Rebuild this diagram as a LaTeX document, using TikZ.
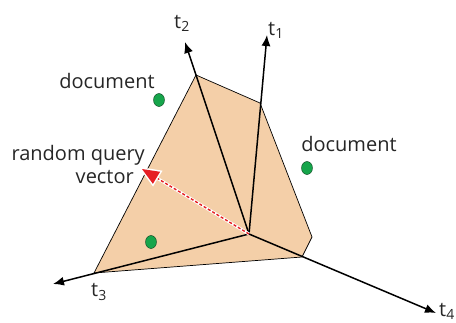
\documentclass[tikz,border=0pt]{standalone}
\usepackage{fontspec}
\setmainfont{Open Sans}
\usetikzlibrary{arrows.meta,calc,shapes.geometric}
\definecolor{peach}{RGB}{244,207,168}
\definecolor{docgreen}{RGB}{22,165,75}
\definecolor{qred}{RGB}{230,30,36}
\tikzset{
  axis/.style={line width=1.5pt,black,-{Latex[length=11pt,width=9pt]}},
  edge/.style={line width=0.8pt,black},
  docdot/.style={ellipse,draw=black!60!docgreen,fill=docgreen,line width=0.4pt,minimum width=11pt,minimum height=13pt,inner sep=0pt},
  lbl/.style={font=\fontsize{20}{23}\selectfont,text=black!85,inner sep=0pt},
}
\begin{document}
\begin{tikzpicture}[x=1pt,y=-1pt]
\useasboundingbox (0,0) rectangle (456,322);
\coordinate (O) at (249,234);
\coordinate (p1) at (196,75);
\coordinate (p2) at (260,103);
\coordinate (p3) at (312,237);
\coordinate (p4) at (302,257);
\coordinate (p5) at (94,273);
\fill[peach] (p1) -- (p2) -- (p3) -- (p4) -- (p5) -- cycle;
\draw[edge,line width=0.7pt] (p1) -- (p2) -- (p3) -- (p4) -- (p5) -- cycle;
\coordinate (e1) at (267,35);
\coordinate (e2) at (185,42);
\coordinate (e3) at (53,284);
\coordinate (e4) at (436,313);
\draw[axis] (O) -- (e1);
\draw[axis] (O) -- (e2);
\draw[axis] (O) -- (e3);
\draw[axis] (O) -- (e4);
\node[lbl] (t1) at (276,30) {t\textsubscript{1}};
\node[lbl] (t2) at (182,23) {t\textsubscript{2}};
\node[lbl] (t3) at (99,292) {t\textsubscript{3}};
\node[lbl] (t4) at (447,311) {t\textsubscript{4}};
\coordinate (q) at (142,169);
\coordinate (qb) at (156.5,177.8);
\coordinate (qc1) at (152.9,183.8);
\coordinate (qc2) at (160.1,171.8);
\draw[white,line width=3pt] (O) -- (qb);
\draw[qred,line width=1.4pt,dash pattern=on 3pt off 2pt] (O) -- (qb);
\draw[white,line width=3pt,line join=miter] (q) -- (qc1) -- (qc2) -- cycle;
\fill[qred] (q) -- (qc1) -- (qc2) -- cycle;
\node[docdot] (d1) at (159,100) {};
\node[docdot] (d2) at (307,168) {};
\node[docdot] (d3) at (151,242) {};
\node[lbl] (l1) at (107,81) {document};
\node[lbl] (l2) at (349,144) {document};
\node[lbl,anchor=east] (l3) at (145,155) {random query};
\node[lbl,anchor=east] (l4) at (134,177) {vector};
\end{tikzpicture}
\end{document}
